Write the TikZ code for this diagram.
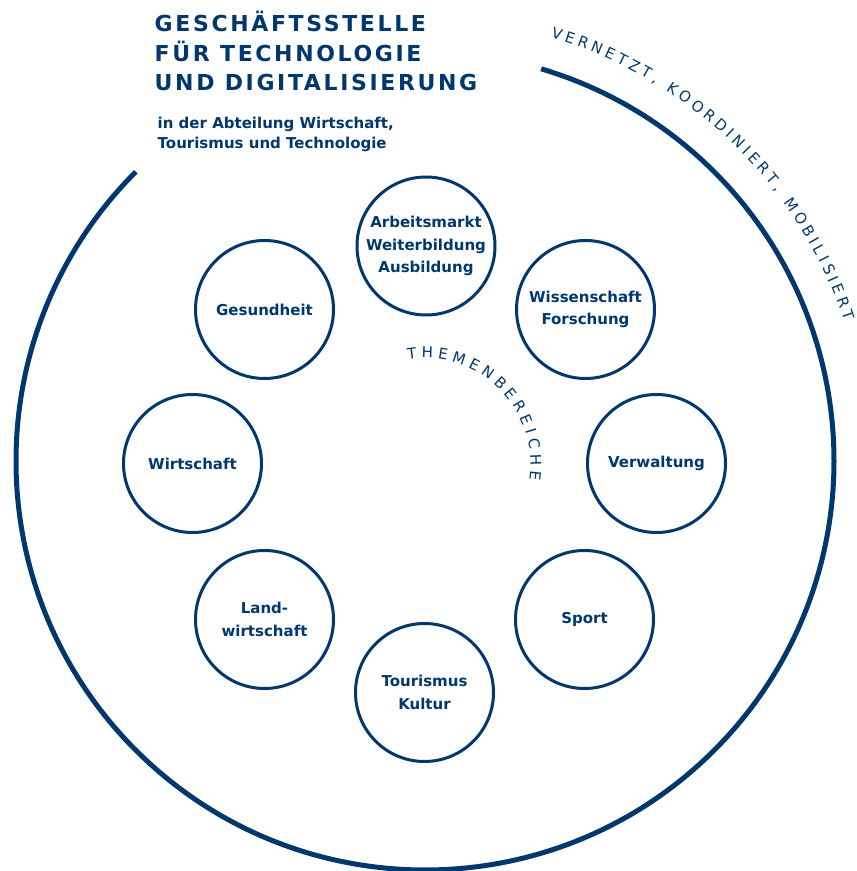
\documentclass[tikz,border=0pt]{standalone}
\usepackage{fontspec}
\setmainfont{DejaVu Sans}
\newfontfamily\titlefont[LetterSpace=12]{DejaVu Sans}
\definecolor{navy}{HTML}{00386E}
\usetikzlibrary{decorations.text}
\begin{document}
\begin{tikzpicture}[x=1pt,y=1pt,
    theme/.style={circle,draw=navy,line width=3pt,minimum size=138pt,inner sep=0pt,
      align=center,text=navy,font=\bfseries\fontsize{15}{22.5}\selectfont},
    headline/.style={anchor=base west,inner sep=0pt,text=navy,
      font=\titlefont\bfseries\fontsize{22}{26}\selectfont},
    subline/.style={anchor=base west,inner sep=0pt,text=navy,
      font=\bfseries\fontsize{15}{20}\selectfont}]
  \useasboundingbox (0,0) rectangle (857,871);
  % title
  \node[headline] (head1) at (154.5,839) {GESCHÄFTSSTELLE};
  \node[headline] (head2) at (154.5,809) {FÜR TECHNOLOGIE};
  \node[headline] (head3) at (154.5,780.5) {UND DIGITALISIERUNG};
  \node[subline] (sub1) at (157.5,742.7) {in der Abteilung Wirtschaft,};
  \node[subline] (sub2) at (157.5,722.7) {Tourismus und Technologie};
  % outer arc
  \draw[navy,line width=5pt] (425,410) ++(135:409)
    arc[start angle=135,end angle=433.5,radius=409];
  \path[decorate,decoration={text along path,text color=navy,text align=fit to path,
      text={|\fontsize{15}{18}\selectfont|VERNETZT, KOORDINIERT, MOBILISIERT}}]
    (425,410) ++(73.5:442) arc[start angle=73.5,end angle=18.5,radius=442];
  % inner label
  \path[decorate,decoration={text along path,text color=navy,text align=fit to path,
      text={|\fontsize{15}{18}\selectfont|THEMENBEREICHE}}]
    (424.5,407) ++(99:106) arc[start angle=99,end angle=-8.5,radius=106];
  % themes
  \node[theme] (arbeit) at (426,625) {Arbeitsmarkt\\Weiterbildung\\Ausbildung};
  \node[theme] (wissen) at (585.5,561.5) {Wissenschaft\\Forschung};
  \node[theme] (verwalt) at (656.5,407.5) {Verwaltung};
  \node[theme] (sport) at (584.5,251.5) {Sport};
  \node[theme] (tour) at (424.5,178.5) {Tourismus\\Kultur};
  \node[theme] (land) at (264.5,251.5) {Land-\\wirtschaft};
  \node[theme] (wirt) at (192.5,407.5) {Wirtschaft};
  \node[theme] (gesund) at (264.5,561.5) {Gesundheit};
\end{tikzpicture}
\end{document}
